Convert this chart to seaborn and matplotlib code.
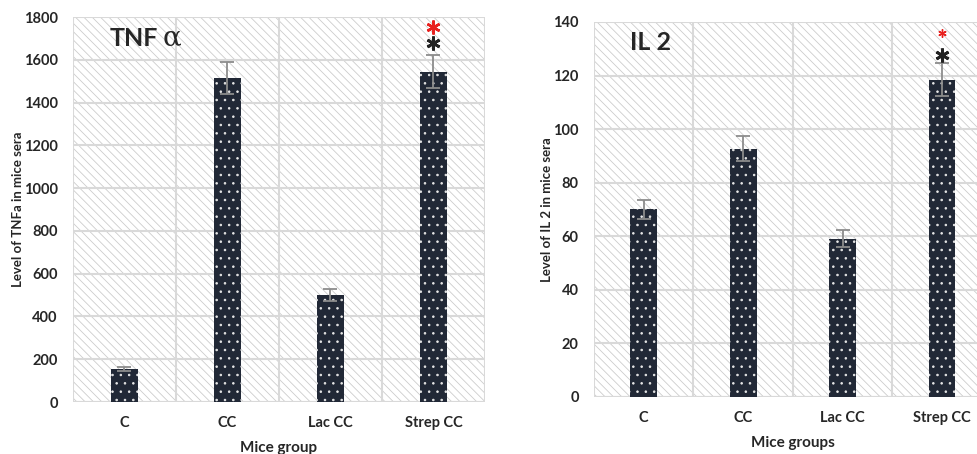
import matplotlib
matplotlib.use('Agg')
import matplotlib.pyplot as plt
from matplotlib.patches import Rectangle
import numpy as np
import pandas as pd
import seaborn as sns

groups = ['C', 'CC', 'Lac CC', 'Strep CC']
tnf_mean = [155, 1515, 500, 1545]
tnf_err = [10, 75, 27, 77]
il2_mean = [70, 92.7, 59.1, 118.5]
il2_err = [3.6, 4.7, 3.2, 6.2]

sns.set_style('white')
plt.rcParams['font.family'] = ['Lato', 'DejaVu Sans']
plt.rcParams['font.weight'] = 'bold'
plt.rcParams['hatch.linewidth'] = 0.6

BAR = '#212836'
GRID = '#d9d9d9'


def draw_panel(ax, means, errs, ymax, ystep, title, greek, ylabel, xlabel, stars):
    df = pd.DataFrame({'group': groups, 'value': means})
    ax.add_patch(Rectangle((0, 0), 1, 1, transform=ax.transAxes, facecolor='white',
                           edgecolor='#cccccc', hatch='\\\\\\\\', lw=0, zorder=0))
    sns.barplot(data=df, x='group', y='value', color=BAR, width=0.27,
                saturation=1, ax=ax, zorder=2)
    for p in ax.patches[1:]:
        p.set_hatch('..')
        p.set_edgecolor('#e8e8e8')
        p.set_linewidth(0)
    ax.errorbar(np.arange(len(groups)), means, yerr=errs, fmt='none',
                ecolor='#8c8c8c', elinewidth=1.3, capsize=5, capthick=1.3, zorder=3)

    ax.set_xlim(-0.5, 3.5)
    ax.set_ylim(0, ymax)
    ax.set_yticks(np.arange(0, ymax + 1, ystep))
    ax.set_xticks(np.arange(-0.5, 4, 1), minor=True)
    ax.set_axisbelow(True)
    ax.grid(axis='y', which='major', color=GRID, lw=1.5, zorder=1)
    ax.grid(axis='x', which='minor', color=GRID, lw=1.5, zorder=1)
    ax.tick_params(axis='both', which='both', length=0, labelsize=10.5)
    ax.tick_params(axis='x', pad=10)
    ax.tick_params(axis='y', pad=11)
    for s in ax.spines.values():
        s.set_visible(False)
    ax.axhline(0, color=GRID, lw=1.5, zorder=1)

    ax.set_xlabel(xlabel, fontsize=11, fontweight='bold', labelpad=8)
    ax.set_ylabel(ylabel, fontsize=9.5, fontweight='bold', labelpad=0)
    for t in ax.get_xticklabels() + ax.get_yticklabels():
        t.set_fontweight('bold')

    t = ax.text(0.09, 0.945, title, transform=ax.transAxes, fontsize=18,
                fontweight='bold', ha='left', va='center', zorder=5)
    if greek:
        ax.annotate(greek, xy=(1, 0.5), xycoords=t, xytext=(3, 0),
                    textcoords='offset points', fontsize=20, fontweight='normal',
                    family='DejaVu Serif', ha='left', va='center', zorder=5)
    # significance asterisks drawn as markers above Strep CC
    for y, col, ms, mew in stars:
        ax.plot([3], [y], marker=(6, 2, 0), color=col, markersize=ms,
                markeredgewidth=mew, linestyle='none', zorder=5, clip_on=False)


fig = plt.figure(figsize=(9.77, 4.54), dpi=100)
ax1 = fig.add_axes([0.0747, 0.1145, 0.4217, 0.848])
ax2 = fig.add_axes([0.608, 0.1256, 0.407, 0.826])

draw_panel(ax1, tnf_mean, tnf_err, 1800, 200, 'TNF', 'α',
           'Level of TNFa in mice sera', 'Mice group',
           [(1755, '#e8201e', 10, 1.8), (1680, '#222222', 10, 2.0)])
draw_panel(ax2, il2_mean, il2_err, 140, 20, 'IL 2', None,
           'Level of IL 2 in mice sera', 'Mice groups',
           [(136, '#e8201e', 6, 1.0), (127.5, '#222222', 10, 2.0)])

fig.savefig('out.png', dpi=100)
